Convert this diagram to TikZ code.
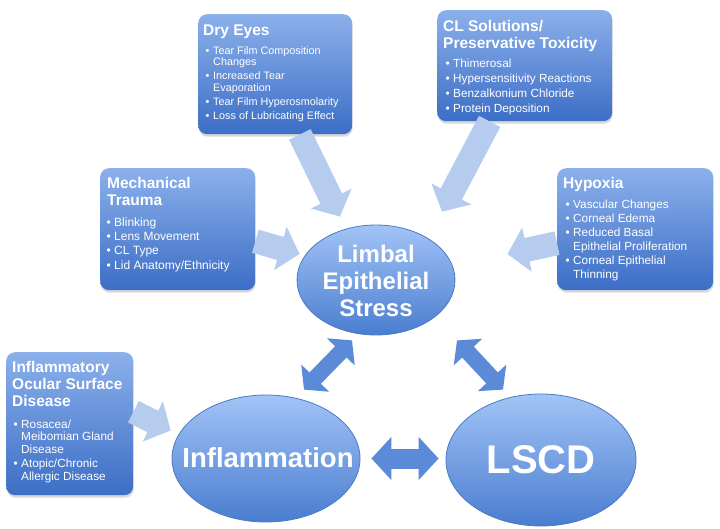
\documentclass[tikz,border=0pt]{standalone}
\usepackage{fontspec}
\setmainfont{Liberation Sans}
\usetikzlibrary{arrows.meta,shadows,calc,shapes.geometric}
\definecolor{boxtop}{HTML}{8BB0EB}
\definecolor{boxbot}{HTML}{3C6EC6}
\definecolor{elltop}{HTML}{A2C4F6}
\definecolor{ellbot}{HTML}{4A7DD0}
\definecolor{ellline}{HTML}{4A7AC4}
\definecolor{feedcol}{HTML}{B6CCEE}
\definecolor{dblcol}{HTML}{5A8AD8}
\newcommand\bl[1]{\makebox[7.5pt][l]{•}#1}
\newcommand\cl[1]{\hspace*{7.5pt}#1}
\begin{document}
\begin{tikzpicture}[x=1pt,y=-1pt,
  box/.style={rounded corners=9pt, top color=boxtop, bottom color=boxbot, draw=none, inner sep=0pt, anchor=north west,
    drop shadow={shadow xshift=0.5pt, shadow yshift=-2.5pt, opacity=0.3}},
  ttl/.style={anchor=base west, align=left, inner sep=0pt, text=white, font=\fontsize{15.5}{17}\selectfont\bfseries},
  body/.style={anchor=base west, align=left, inner sep=0pt, text=white},
  ell/.style={ellipse, top color=elltop, bottom color=ellbot, draw=ellline, line width=0.8pt, inner sep=0pt},
  elltxt/.style={text=white, align=center, inner sep=0pt},
  feed/.style={draw=feedcol, line width=24pt, -{Triangle[length=20pt,width=44pt]}},
  dbl/.style={draw=dblcol, line width=16pt, {Triangle[length=16pt,width=38pt]}-{Triangle[length=16pt,width=38pt]}},
  dblh/.style={draw=dblcol, line width=20pt, {Triangle[length=20pt,width=42pt]}-{Triangle[length=20pt,width=42pt]}}
]
\useasboundingbox (0,0) rectangle (720,528);
\fill[white] (0,0) rectangle (720,528);

% boxes
\node[box, minimum width=154pt, minimum height=120pt] (dry) at (198,14) {};
\node[box, minimum width=175pt, minimum height=111pt] (cl) at (437,10) {};
\node[box, minimum width=155pt, minimum height=122pt] (mech) at (100,168) {};
\node[box, minimum width=156pt, minimum height=122pt] (hyp) at (557,168) {};
\node[box, minimum width=127pt, minimum height=143pt] (inf) at (6,352) {};

% ellipses
\node[ell, minimum width=158pt, minimum height=110pt] (limbal) at (376,280) {};
\node[ell, minimum width=188pt, minimum height=127pt] (inflam) at (266,458.5) {};
\node[ell, minimum width=190pt, minimum height=132pt] (lscd) at (541,460) {};

% feeding arrows
\draw[feed] ($(dry.south west)!0.66!(dry.south east)$) -- ($(limbal.north)+(-36,-8)$);
\draw[feed] ($(cl.south west)!0.3!(cl.south east)$) -- ($(limbal.north)+(66,-13)$);
\draw[feed] ($(mech.east)+(0,12)$) -- ($(limbal.west)+(3,-26)$);
\draw[feed] ($(hyp.west)+(0,14)$) -- ($(limbal.east)+(52,-26)$);
\draw[feed] ($(inf.east)+(0,-12)$) -- ($(inflam.west)+(-1,-28)$);

% double arrows
\draw[dbl] ($(inflam.north)+(38,-5)$) -- ($(limbal.south)+(-24,5)$);
\draw[dbl] ($(limbal.south)+(81,5)$) -- ($(lscd.north)+(-38,-4)$);
\draw[dblh] ($(inflam.east)+(11,0)$) -- ($(lscd.west)+(-7,-1.5)$);

% box texts (anchored at the baseline of their last line)
\node[ttl] (dryT) at (203,35) {Dry Eyes};
\node[body, font=\fontsize{10.8}{11.5}\selectfont] (dryB) at (205.5,119)
 {\bl{Tear Film Composition}\\\cl{Changes}\\[2.5pt]\bl{Increased Tear}\\\cl{Evaporation}\\[2.5pt]\bl{Tear Film Hyperosmolarity}\\[2.5pt]\bl{Loss of Lubricating Effect}};

\node[ttl] (clT) at (443,48) {CL Solutions/\\Preservative Toxicity};
\node[body, font=\fontsize{11.8}{14.7}\selectfont] (clB) at (445.5,112)
 {\bl{Thimerosal}\\\bl{Hypersensitivity Reactions}\\\bl{Benzalkonium Chloride}\\\bl{Protein Deposition}};

\node[ttl] (mechT) at (107,205) {Mechanical\\Trauma};
\node[body, font=\fontsize{12}{14.3}\selectfont] (mechB) at (106.5,269)
 {\bl{Blinking}\\\bl{Lens Movement}\\\bl{CL Type}\\\bl{Lid Anatomy/Ethnicity}};

\node[ttl] (hypT) at (563,188) {Hypoxia};
\node[body, font=\fontsize{11.8}{14}\selectfont] (hypB) at (565.5,278)
 {\bl{Vascular Changes}\\\bl{Corneal Edema}\\\bl{Reduced Basal}\\\cl{Epithelial Proliferation}\\\bl{Corneal Epithelial}\\\cl{Thinning}};

\node[ttl] (infT) at (12,406) {Inflammatory\\Ocular Surface\\Disease};
\node[body, font=\fontsize{11.8}{12.5}\selectfont] (infB) at (13.5,480)
 {\bl{Rosacea/}\\\cl{Meibomian Gland}\\\cl{Disease}\\[2pt]\bl{Atopic/Chronic}\\\cl{Allergic Disease}};

% ellipse texts
\node[elltxt, font=\fontsize{24}{27}\selectfont\bfseries] (limbalT) at ($(limbal)+(0,1)$) {Limbal\\Epithelial\\Stress};
\node[elltxt, font=\fontsize{27.5}{30}\selectfont\bfseries] (inflamT) at ($(inflam)+(2,-1)$) {Inflammation};
\node[elltxt, font=\fontsize{40}{44}\selectfont\bfseries] (lscdT) at (lscd) {LSCD};
\end{tikzpicture}
\end{document}
